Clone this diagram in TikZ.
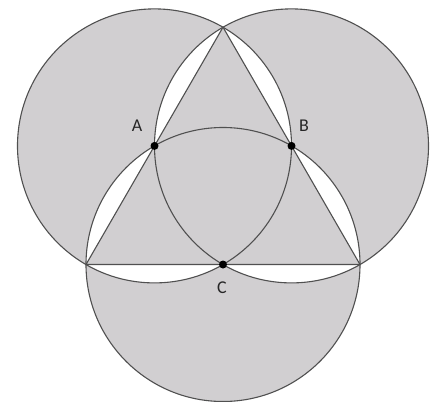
\documentclass[tikz,border=0pt]{standalone}
\usepackage{fontspec}
\setmainfont{Carlito}
\definecolor{greyfill}{RGB}{209,207,209}
\definecolor{ink}{RGB}{80,80,80}
\begin{document}
\begin{tikzpicture}[x=1pt,y=-1pt,
  outline/.style={draw=ink,line width=1.1pt},
  dot/.style={circle,fill=black,inner sep=0pt,minimum size=8pt},
  lbl/.style={font=\fontsize{18}{20}\selectfont,text=black!85}]
\useasboundingbox (0,0) rectangle (433,401);
\coordinate (T) at (223,27.2);
\coordinate (L) at (86,264.5);
\coordinate (R) at (360,264.5);
\coordinate (A) at (154.5,145.9);
\coordinate (B) at (291.5,145.9);
\coordinate (C) at (223,264.5);
% shaded regions: odd coverage plus the triangle
\fill[fill=greyfill,even odd rule] (A) circle[radius=137pt] (B) circle[radius=137pt] (C) circle[radius=137pt];
\fill[fill=greyfill] (T) -- (L) -- (R) -- cycle;
% outlines
\draw[outline] (A) circle[radius=137pt];
\draw[outline] (B) circle[radius=137pt];
\draw[outline] (C) circle[radius=137pt];
\draw[outline] (T) -- (L) -- (R) -- cycle;
% points
\node[dot] (dA) at (A) {};
\node[dot] (dB) at (B) {};
\node[dot] (dC) at (C) {};
\node[lbl] (lA) at (137,126) {A};
\node[lbl] (lB) at (304,126) {B};
\node[lbl] (lC) at (222,288) {C};
\end{tikzpicture}
\end{document}
